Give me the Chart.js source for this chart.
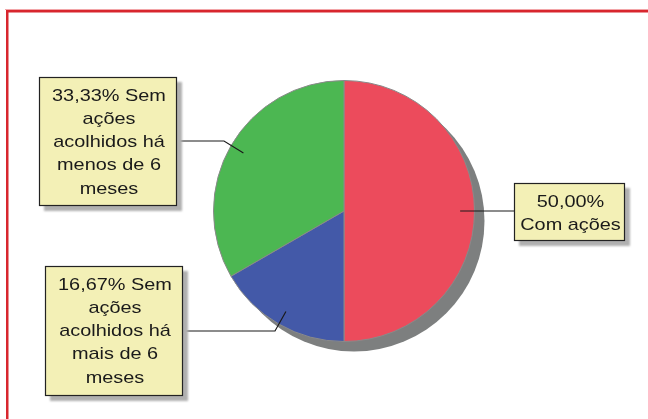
<!DOCTYPE html>
<html>
<head>
<meta charset="utf-8">
<script src="https://cdn.jsdelivr.net/npm/chart.js@4/dist/chart.umd.min.js"></script>
<style>
    html, body { margin: 0; padding: 0; background: #fff; }
    canvas { display: block; }
</style>
</head>
<body>
<canvas id="pieAcoes" width="648" height="419"></canvas>
<script>
// data
const categories = ['Com ações', 'Sem ações acolhidos há mais de 6 meses', 'Sem ações acolhidos há menos de 6 meses'];
const percents = [50.00, 16.67, 33.33];
const sliceColors = ['#ec4b5c', '#4359a8', '#4cb752'];

// callout boxes: box rect, elbow point of the leader line, wrap width
const callouts = [
    {box: {x: 514, y: 183, w: 111, h: 58}, elbow: null, wrap: 104},
    {box: {x: 45, y: 266, w: 138, h: 130}, elbow: {x: 275, y: 331}, wrap: 120},
    {box: {x: 39, y: 77, w: 138, h: 129}, elbow: {x: 224, y: 141}, wrap: 120}
];

const FONT = '17px "Liberation Sans", Arial, sans-serif';
const STRETCH = 1.17;
const LINE_H = 23.3;

function pctText(v) {
    return v.toFixed(2).replace('.', ',') + '%';
}

function wrapWords(ctx, text, maxWidth) {
    let words = text.split(' ');
    let lines = [];
    let cur = '';
    words.forEach(function (w) {
        let test = cur ? cur + ' ' + w : w;
        if (cur && ctx.measureText(test).width * STRETCH > maxWidth) {
            lines.push(cur);
            cur = w;
        } else {
            cur = test;
        }
    });
    if (cur) lines.push(cur);
    return lines;
}

const framePlugin = {
    id: 'frame',
    beforeDraw(chart) {
        const ctx = chart.ctx;
        ctx.save();
        ctx.fillStyle = '#fff';
        ctx.fillRect(0, 0, chart.width, chart.height);
        // red frame, top and left edges
        ctx.fillStyle = '#f2a5a8';
        ctx.fillRect(5, 9, chart.width - 5, 1);
        ctx.fillStyle = '#d8262e';
        ctx.fillRect(6, 10, chart.width - 6, 2.5);
        ctx.fillRect(6, 10, 2.5, chart.height - 10);
        ctx.restore();
    }
};

const pieShadow = {
    id: 'pieShadow',
    beforeDatasetsDraw(chart) {
        const arc = chart.getDatasetMeta(0).data[0];
        if (!arc) return;
        const ctx = chart.ctx;
        ctx.save();
        ctx.fillStyle = '#7d7f7f';
        ctx.beginPath();
        ctx.arc(arc.x + 10, arc.y + 10, arc.outerRadius, 0, Math.PI * 2);
        ctx.fill();
        ctx.restore();
    }
};

const calloutPlugin = {
    id: 'callouts',
    afterDatasetsDraw(chart) {
        const ctx = chart.ctx;
        const meta = chart.getDatasetMeta(0);
        ctx.save();
        ctx.font = FONT;
        meta.data.forEach(function (arc, i) {
            const c = callouts[i];
            const b = c.box;
            const mid = (arc.startAngle + arc.endAngle) / 2;
            const ax = arc.x + Math.cos(mid) * arc.outerRadius * 0.89;
            const ay = arc.y + Math.sin(mid) * arc.outerRadius * 0.89;

            // leader line
            ctx.strokeStyle = '#1a1a1a';
            ctx.lineWidth = 1.2;
            ctx.beginPath();
            ctx.moveTo(ax, ay);
            if (c.elbow) {
                ctx.lineTo(c.elbow.x, c.elbow.y);
                ctx.lineTo(ax < arc.x ? b.x + b.w : b.x, c.elbow.y);
            } else {
                ctx.lineTo(ax < arc.x ? b.x + b.w : b.x, ay);
            }
            ctx.stroke();

            // box shadow
            ctx.save();
            ctx.filter = 'blur(1px)';
            ctx.fillStyle = '#b0b0b0';
            ctx.fillRect(b.x + 5, b.y + 5, b.w, b.h);
            ctx.restore();

            // box
            ctx.fillStyle = '#f3f0b6';
            ctx.fillRect(b.x, b.y, b.w, b.h);
            ctx.strokeStyle = '#222';
            ctx.lineWidth = 1.2;
            ctx.strokeRect(b.x + 0.5, b.y + 0.5, b.w - 1, b.h - 1);

            // text
            const text = pctText(percents[i]) + ' ' + categories[i];
            const lines = wrapWords(ctx, text, c.wrap);
            ctx.fillStyle = '#1a1a1a';
            ctx.textAlign = 'center';
            ctx.textBaseline = 'alphabetic';
            lines.forEach(function (line, k) {
                ctx.save();
                ctx.translate(b.x + b.w / 2 + 1, b.y + 23.5 + k * LINE_H);
                ctx.scale(STRETCH, 1);
                ctx.fillText(line, 0, 0);
                ctx.restore();
            });
        });
        ctx.restore();
    }
};

const ctx = document.getElementById('pieAcoes');

new Chart(ctx, {
    type: 'pie',
    data: {
        labels: categories,
        datasets: [{
            data: percents,
            backgroundColor: sliceColors,
            borderColor: '#8a8a8a',
            borderWidth: 1
        }]
    },
    options: {
        responsive: false,
        animation: false,
        layout: {
            padding: {left: 213, right: 173, top: 80, bottom: 77}
        },
        plugins: {
            legend: {display: false},
            tooltip: {enabled: false}
        }
    },
    plugins: [framePlugin, pieShadow, calloutPlugin]
});
</script>
</body>
</html>
